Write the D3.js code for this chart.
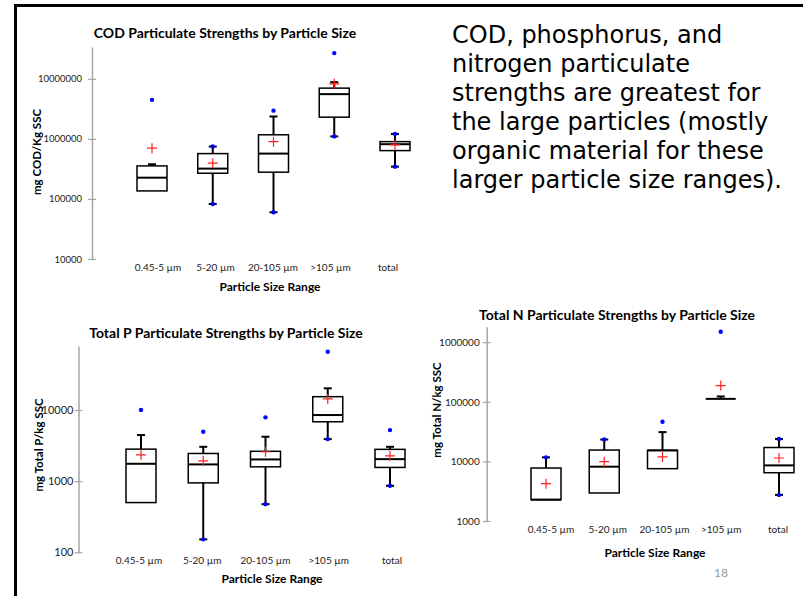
<!DOCTYPE html>
<html>
<head>
<meta charset="utf-8">
<script src="https://cdn.jsdelivr.net/npm/d3@7"></script>
<style>
  body { margin: 0; background: #fff; }
  svg { display: block; font-family: Lato, "Open Sans", sans-serif; }
</style>
</head>
<body>
<svg width="803" height="596"></svg>
<script>
const categories = ["0.45-5 µm", "5-20 µm", "20-105 µm", ">105 µm", "total"];

// COD, mg COD/Kg SSC
const codLow = [136000, 82500, 60000, 1100000, 345000];
const codQ1 = [136000, 268000, 279000, 2300000, 638000];
const codMedian = [226000, 320000, 569000, 5560000, 816000];
const codQ3 = [355000, 569000, 1170000, 7000000, 900000];
const codHigh = [378000, 745000, 2360000, 8800000, 1210000];
const codMean = [700000, 394000, 900000, 8250000, 795000];
const codDots = [[4470000], [745000, 82500], [2950000, 60000], [26800000, 1100000], [1210000, 345000]];
const codTicks = [10000, 100000, 1000000, 10000000];

// Total P, mg Total P/kg SSC
const pLow = [500, 152, 475, 3900, 860];
const pQ1 = [500, 946, 1590, 6840, 1560];
const pMedian = [1755, 1720, 2020, 8500, 2040];
const pQ3 = [2820, 2450, 2630, 15400, 2800];
const pHigh = [4450, 3040, 4210, 20200, 3040];
const pMean = [2345, 1930, 2590, 14300, 2270];
const pDots = [[10000], [4950, 152], [7890, 475], [66000, 3900], [5220, 860]];
const pTicks = [100, 1000, 10000];

// Total N, mg Total N/kg SSC
const nLow = [2280, 2950, 7550, 112000, 2740];
const nQ1 = [2280, 2950, 7550, 112000, 6460];
const nMedian = [2280, 8150, 15300, 112000, 8570];
const nQ3 = [7740, 15500, 15300, 112000, 17100];
const nHigh = [11700, 23300, 31000, 123000, 23700];
const nMean = [4230, 9880, 11900, 187000, 11400];
const nDots = [[11700], [23300], [46200], [1500000], [23700, 2740]];
const nTicks = [1000, 10000, 100000, 1000000];

const bodyLines = [
  "COD, phosphorus, and",
  "nitrogen particulate",
  "strengths are greatest for",
  "the large particles (mostly",
  "organic material for these",
  "larger particle size ranges)."
];

const svg = d3.select("svg");

// slide frame
svg.append("line").attr("x1", 15.5).attr("x2", 15.5).attr("y1", 4).attr("y2", 596)
  .attr("stroke", "#000").attr("stroke-width", 3);
svg.append("line").attr("x1", 14).attr("x2", 803).attr("y1", 5.5).attr("y2", 5.5)
  .attr("stroke", "#000").attr("stroke-width", 3);

function rows(low, q1, med, q3, high, mean, dots) {
  return categories.map((c, i) => ({
    cat: c, low: low[i], q1: q1[i], med: med[i], q3: q3[i], high: high[i], mean: mean[i], dots: dots[i]
  }));
}

function boxChart(cfg, data) {
  const g = svg.append("g");
  const y = d3.scaleLog().domain(cfg.domain).range([cfg.bottom, cfg.top]);
  const x = d3.scalePoint().domain(categories).range(cfg.boxX);
  const xl = d3.scalePoint().domain(categories).range(cfg.labelX);
  const bw = 30;

  const axis = g.append("g")
    .attr("transform", `translate(${cfg.axisX},0)`)
    .call(d3.axisLeft(y).tickValues(cfg.ticks).tickFormat(d3.format("d"))
      .tickSize(4).tickSizeOuter(0).tickPadding(cfg.pad));
  axis.select(".domain").attr("stroke", "#a6a6a6").attr("stroke-width", 1.5);
  axis.selectAll(".tick line").attr("x1", 4).attr("stroke", "#a6a6a6").attr("stroke-width", 1.2);
  axis.selectAll(".tick text").attr("font-size", cfg.tickFont).attr("fill", "#222")
    .attr("font-family", "Lato, sans-serif");

  g.append("text").attr("x", cfg.titleX).attr("y", cfg.titleY)
    .attr("text-anchor", "middle").attr("font-size", 14).attr("font-weight", "bold")
    .text(cfg.title);

  g.append("text")
    .attr("transform", `translate(${cfg.yTitleX},${cfg.yTitleY}) rotate(-90)`)
    .attr("text-anchor", "middle").attr("font-size", 11.5).attr("font-weight", "bold")
    .text(cfg.yTitle);

  g.append("g").selectAll("text").data(categories).join("text")
    .attr("x", d => xl(d)).attr("y", cfg.labelY)
    .attr("text-anchor", "middle").attr("font-size", 10).attr("fill", "#222")
    .text(d => d);

  g.append("text").attr("x", cfg.xTitleX).attr("y", cfg.xTitleY)
    .attr("text-anchor", "middle").attr("font-size", 12).attr("font-weight", "bold")
    .text("Particle Size Range");

  const b = g.append("g").selectAll("g").data(data).join("g")
    .attr("transform", d => `translate(${x(d.cat)},0)`);

  // whiskers
  b.filter(d => d.high > d.q3).append("line")
    .attr("y1", d => y(d.q3)).attr("y2", d => y(d.high))
    .attr("stroke", "#000").attr("stroke-width", 2);
  b.filter(d => d.low < d.q1).append("line")
    .attr("y1", d => y(d.q1)).attr("y2", d => y(d.low))
    .attr("stroke", "#000").attr("stroke-width", 2);
  b.filter(d => d.high > d.q3).append("line")
    .attr("x1", -4).attr("x2", 4).attr("y1", d => y(d.high)).attr("y2", d => y(d.high))
    .attr("stroke", "#000").attr("stroke-width", 2);
  b.filter(d => d.low < d.q1).append("line")
    .attr("x1", -4).attr("x2", 4).attr("y1", d => y(d.low)).attr("y2", d => y(d.low))
    .attr("stroke", "#000").attr("stroke-width", 2);

  // box
  b.append("rect")
    .attr("x", -bw / 2).attr("width", bw)
    .attr("y", d => y(d.q3)).attr("height", d => y(d.q1) - y(d.q3))
    .attr("fill", "#fff").attr("stroke", "#000").attr("stroke-width", 1.5);
  b.append("line")
    .attr("x1", -bw / 2).attr("x2", bw / 2)
    .attr("y1", d => y(d.med)).attr("y2", d => y(d.med))
    .attr("stroke", "#000").attr("stroke-width", 2);

  // points
  b.selectAll("circle").data(d => d.dots).join("circle")
    .attr("cy", d => y(d)).attr("r", 2.2).attr("fill", "#0000ff");

  // mean
  b.append("path")
    .attr("d", d => `M-5,${y(d.mean)}h10M0,${y(d.mean) - 5}v10`)
    .attr("stroke", "#ff2020").attr("stroke-width", 1.2).attr("fill", "none");
}

boxChart({
  title: "COD Particulate Strengths by Particle Size", titleX: 225, titleY: 38,
  yTitle: "mg COD/Kg SSC", yTitleX: 41, yTitleY: 152,
  domain: [1e4, Math.pow(10, 7.53)], ticks: codTicks, top: 47, bottom: 259, axisX: 92, pad: 6, tickFont: 9.5,
  boxX: [152, 395], labelX: [158, 388], labelY: 271, xTitleX: 270, xTitleY: 291
}, rows(codLow, codQ1, codMedian, codQ3, codHigh, codMean, codDots));

boxChart({
  title: "Total P Particulate Strengths by Particle Size", titleX: 226, titleY: 338,
  yTitle: "mg Total P/kg SSC", yTitleX: 43, yTitleY: 445,
  domain: [100, Math.pow(10, 4.9)], ticks: pTicks, top: 346, bottom: 552.3, axisX: 78.5, pad: 1, tickFont: 11,
  boxX: [141, 390], labelX: [139, 392], labelY: 564, xTitleX: 272, xTitleY: 583
}, rows(pLow, pQ1, pMedian, pQ3, pHigh, pMean, pDots));

boxChart({
  title: "Total N Particulate Strengths by Particle Size", titleX: 617, titleY: 320,
  yTitle: "mg Total N/kg SSC", yTitleX: 441, yTitleY: 410,
  domain: [1000, Math.pow(10, 6.26)], ticks: nTicks, top: 326.7, bottom: 521, axisX: 486.7, pad: 3, tickFont: 10,
  boxX: [546, 779], labelX: [551, 778], labelY: 533, xTitleX: 655, xTitleY: 557
}, rows(nLow, nQ1, nMedian, nQ3, nHigh, nMean, nDots));

// slide number
svg.append("text").attr("x", 721).attr("y", 577).attr("text-anchor", "middle")
  .attr("font-size", 12).attr("fill", "#999").text("18");

// body text as one paragraph, sized so the widest line spans about the same width as in the slide
const para = svg.append("text").attr("y", 42.7).attr("font-size", 22)
  .attr("font-family", "'DejaVu Sans', sans-serif").attr("fill", "#000");
const lines = para.selectAll("tspan").data(bodyLines).join("tspan")
  .attr("x", 452).attr("dy", (d, i) => i ? 29 : 0).text(d => d);
const widest = d3.max(lines.nodes(), n => n.getComputedTextLength());
para.attr("font-size", Math.min(24, 22 * 330 / widest));
</script>
</body>
</html>
